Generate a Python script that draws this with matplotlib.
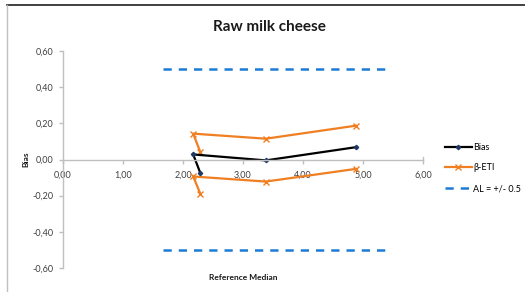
import matplotlib.pyplot as plt
from matplotlib.lines import Line2D
import matplotlib

matplotlib.rcParams.update({'font.family': ['Lato', 'DejaVu Sans']})

# data (Excel scatter, points connected in data order)
ref_median = [2.29, 2.17, 3.38, 4.88]
bias = [-0.076, 0.028, -0.005, 0.068]
eti_upper = [0.04, 0.143, 0.115, 0.187]
eti_lower = [-0.19, -0.094, -0.122, -0.052]
al_x = [1.67, 5.40]
al_limit = 0.5

x_ticks = [0, 1, 2, 3, 4, 5, 6]
y_ticks = [-0.6, -0.4, -0.2, 0.0, 0.2, 0.4, 0.6]

orange = '#F07F22'
blue = '#1C7CD5'
axis_grey = '#BFBFBF'

fig = plt.figure(figsize=(5.25, 2.92), dpi=100)
ax = fig.add_axes([63 / 525, 1 - 268 / 292, 360 / 525, 217 / 292])

ax.plot(al_x, [al_limit, al_limit], color=blue, lw=1.8, dashes=(3.3, 2.8))
ax.plot(al_x, [-al_limit, -al_limit], color=blue, lw=1.8, dashes=(3.3, 2.8))
ax.plot(ref_median, eti_upper, color=orange, lw=1.6, marker='x', ms=4, mew=1.0)
ax.plot(ref_median, eti_lower, color=orange, lw=1.6, marker='x', ms=4, mew=1.0)
ax.plot(ref_median, bias, color='black', lw=1.6, marker='D', ms=2.2,
        mfc='#1F3864', mec='#1F3864')

ax.set_xlim(0, 6)
ax.set_ylim(-0.6, 0.6)
ax.set_xticks(x_ticks)
ax.set_yticks(y_ticks)
ax.set_xticklabels([f'{v:.2f}'.replace('.', ',') for v in x_ticks])
ax.set_yticklabels([f'{v:.2f}'.replace('.', ',') for v in y_ticks])

for side in ['top', 'right']:
    ax.spines[side].set_visible(False)
ax.spines['bottom'].set_position(('data', 0))
ax.spines['left'].set_color(axis_grey)
ax.spines['bottom'].set_color(axis_grey)
ax.spines['left'].set_linewidth(1.0)
ax.spines['bottom'].set_linewidth(1.0)
ax.tick_params(axis='both', colors=axis_grey, labelcolor='#404040',
               labelsize=6.5, length=3, width=1.0)
ax.tick_params(axis='x', pad=5)
ax.tick_params(axis='y', pad=4)
# small upturned tick at the end of the x axis
ax.plot([6, 6], [0, 0.012], color=axis_grey, lw=1.0, clip_on=False)

fig.text(269 / 525, 1 - 27 / 292, 'Raw milk cheese', ha='center', va='center',
         fontsize=11, fontweight='bold', color='#1a1a1a')
fig.text(26 / 525, 1 - 159 / 292, 'Bias', ha='center', va='center',
         rotation=90, fontsize=6, fontweight='bold', color='#1a1a1a')
fig.text(243 / 525, 1 - 277 / 292, 'Reference Median', ha='center', va='center',
         fontsize=6, fontweight='bold', color='#1a1a1a')

handles = [
    Line2D([], [], color='black', lw=1.6, marker='D', ms=2.2, mfc='#1F3864', mec='#1F3864'),
    Line2D([], [], color=orange, lw=1.6, marker='x', ms=4, mew=1.0),
    Line2D([], [], color=blue, lw=1.8, dashes=(3.3, 2.8)),
]
fig.legend(handles, ['Bias', 'β-ETI', 'AL = +/- 0.5'], loc='center left',
           bbox_to_anchor=(440 / 525, 1 - 168 / 292), frameon=False,
           fontsize=6.5, handlelength=3.0, handletextpad=0.2, labelspacing=1.3,
           borderpad=0)

# chart frame
fig.add_artist(Line2D([7 / 525, 1], [1 - 5 / 292] * 2, color='#202020', lw=1.2))
fig.add_artist(Line2D([7 / 525] * 2, [0, 1 - 5 / 292], color=axis_grey, lw=1.0))

fig.savefig('out.png', dpi=100)
